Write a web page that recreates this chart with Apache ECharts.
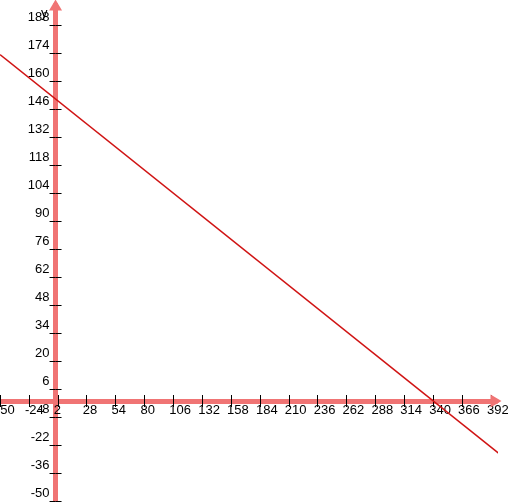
<!DOCTYPE html>
<html><head><meta charset="utf-8">
<script src="https://cdn.jsdelivr.net/npm/echarts@6/dist/echarts.min.js"></script>
<style>html,body{margin:0;padding:0;background:#fff}#c{width:508px;height:502px}</style>
</head><body><div id="c"></div>
<script>
// line data (x, y)
const lineX = [-50, 400];
const lineY = [173.2, -26.6];
// tick values
const xTicks = [-50,-24,2,28,54,80,106,132,158,184,210,236,262,288,314,340,366,392];
const yTicks = [188,174,160,146,132,118,104,90,76,62,48,34,20,6,-8,-22,-36,-50];
const xRange = [-50, 396.5];
const yRange = [-50.5, 198];

const AXIS_COLOR = '#f07474';
const LINE_COLOR = '#d01414';
const FONT = 'Liberation Sans';

const GRID = {left: 0, top: 5, width: 496, height: 497};
// where the zero lines fall inside the grid (axes cross at the origin)
const zeroY = GRID.top + (yRange[1] - 0) / (yRange[1] - yRange[0]) * GRID.height;
const zeroX = GRID.left + (0 - xRange[0]) / (xRange[1] - xRange[0]) * GRID.width;

const chart = echarts.init(document.getElementById('c'), null, {renderer: 'canvas'});

function axisBase(range) {
  return {type: 'value', min: range[0], max: range[1], splitLine: {show: false}};
}

const xAxes = [
  Object.assign(axisBase(xRange), {
    position: 'bottom', offset: -(GRID.top + GRID.height - zeroY),
    axisLine: {show: true, onZero: false, symbol: ['none', 'triangle'], symbolSize: [13, 11],
      lineStyle: {color: AXIS_COLOR, width: 5}},
    axisTick: {show: true, customValues: xTicks, length: 6, lineStyle: {color: '#000', width: 1}},
    axisLabel: {show: true, customValues: xTicks, align: 'left', padding: [0, 0, 0, -4], margin: 3,
      color: '#000', fontFamily: FONT, fontSize: 13}
  }),
  Object.assign(axisBase(xRange), {
    position: 'top',
    axisLine: {show: false, onZero: true},
    axisTick: {show: true, customValues: xTicks, length: 6, lineStyle: {color: '#000', width: 1}},
    axisLabel: {show: false}
  })
];

const yAxes = [
  Object.assign(axisBase(yRange), {
    position: 'left', offset: -(zeroX - GRID.left),
    name: 'y', nameLocation: 'end', nameGap: -2, nameMoveOverlap: false,
    nameTextStyle: {color: '#000', fontFamily: FONT, fontSize: 13, align: 'right', verticalAlign: 'top', padding: [0, 8, 0, 0]},
    axisLine: {show: true, onZero: false, symbol: ['none', 'triangle'], symbolSize: [13, 11],
      lineStyle: {color: AXIS_COLOR, width: 5}},
    axisTick: {show: true, customValues: yTicks, length: 6, lineStyle: {color: '#000', width: 1}},
    axisLabel: {show: true, customValues: yTicks, align: 'right', verticalAlign: 'bottom', lineHeight: 16, margin: 6,
      color: '#000', fontFamily: FONT, fontSize: 13}
  }),
  Object.assign(axisBase(yRange), {
    position: 'right',
    axisLine: {show: false, onZero: true},
    axisTick: {show: true, customValues: yTicks, length: 6, lineStyle: {color: '#000', width: 1}},
    axisLabel: {show: false}
  })
];

chart.setOption({
  animation: false,
  grid: Object.assign({}, GRID, {outerBounds: {left: -400, top: -400, right: -400, bottom: -400}}),
  xAxis: xAxes,
  yAxis: yAxes,
  series: [{
    type: 'line', xAxisIndex: 0, yAxisIndex: 0,
    data: lineX.map((x, i) => [x, lineY[i]]),
    showSymbol: false, clip: false, silent: true, z: 3,
    lineStyle: {color: LINE_COLOR, width: 1.5}
  }]
});
</script>
</body></html>
